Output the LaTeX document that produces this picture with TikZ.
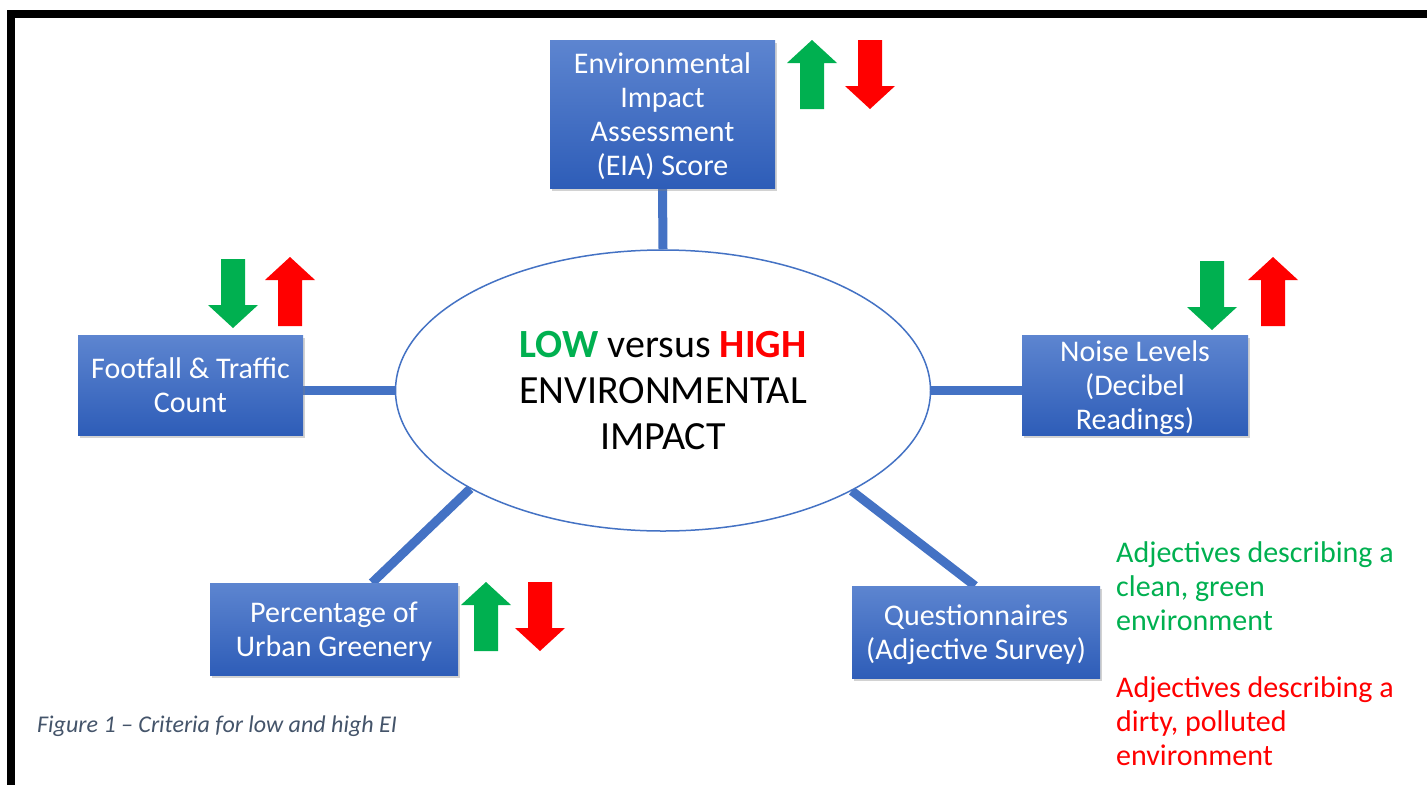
\documentclass[tikz,border=0pt]{standalone}
\usepackage{fontspec}
\setmainfont{Carlito}
\usetikzlibrary{shapes.geometric,shadows,calc,backgrounds}
\definecolor{conn}{HTML}{4472C4}
\definecolor{boxtop}{RGB}{93,133,208}
\definecolor{boxbot}{RGB}{46,93,184}
\definecolor{agreen}{HTML}{00B050}
\definecolor{ared}{HTML}{FF0000}
\definecolor{capcol}{HTML}{44546A}
\tikzset{
  pics/uparr/.style={code={\fill[pic actions] (25,0) -- (50,23) -- (37,23) -- (37,69) -- (13,69) -- (13,23) -- (0,23) -- cycle;}},
  pics/dnarr/.style={code={\fill[pic actions] (13,0) -- (37,0) -- (37,46) -- (50,46) -- (25,69) -- (0,46) -- (13,46) -- cycle;}}
}
\begin{document}
\begin{tikzpicture}[x=1pt,y=-1pt,
  crit/.style={rectangle, top color=boxtop, bottom color=boxbot, text=white, align=center,
    inner sep=0pt, font=\fontsize{30}{34}\selectfont, text depth=0pt,
    drop shadow={shadow xshift=2pt,shadow yshift=-3pt,opacity=0.35}},
  link/.style={draw=conn, line width=9pt},
  hub/.style={ellipse, draw=conn, line width=1.5pt, fill=white, minimum width=535pt,
    minimum height=281pt, inner sep=0pt, align=center, font=\fontsize{40}{46}\selectfont},
  note/.style={anchor=base west, inner sep=0pt, font=\fontsize{30}{34}\selectfont}
]
\useasboundingbox (0,0) rectangle (1427,785);
% frame
\fill[black] (7,10) rectangle (1427,18);
\fill[black] (7,10) rectangle (15,785);

% hub
\node[hub] (hub) at (663,390.5) {{\color{agreen}\textbf{LOW}} versus {\color{ared}\textbf{HIGH}}\\ENVIRONMENTAL\\IMPACT};

% criteria boxes
\node[crit, minimum width=225pt, minimum height=148pt] (eia) at (662.5,114) {Environmental\\Impact\\Assessment\\(EIA) Score};
\node[crit, minimum width=225pt, minimum height=100pt] (ff) at (190.5,385) {Footfall \& Traffic\\Count};
\node[crit, minimum width=226pt, minimum height=100pt] (noise) at (1135,385) {Noise Levels\\(Decibel\\Readings)};
\node[crit, minimum width=248pt, minimum height=92pt] (pg) at (334,629) {Percentage of\\Urban Greenery};
\node[crit, minimum width=248pt, minimum height=92pt] (qs) at (976,632) {Questionnaires\\(Adjective Survey)};

% connectors
\begin{scope}[on background layer]
\fill[white] (15,18) rectangle (1427,785);
\draw[link] (eia.south) -- (hub.north);
\draw[link] (hub.west -| ff.east) -- (hub.west);
\draw[link] (hub.east -| noise.west) -- (hub.east);
\draw[link] (hub.207.8) -- ($(pg.north west)!0.653!(pg.north east)$);
\draw[link] (hub.332.2) -- ($(qs.north west)!0.496!(qs.north east)$);
\end{scope}

% indicator arrows
\pic[fill=agreen] at (787,40) {uparr};
\pic[fill=ared] at (845,40) {dnarr};
\pic[fill=agreen] at (208,259) {dnarr};
\pic[fill=ared] at (265,257) {uparr};
\pic[fill=agreen] at (1187,261) {dnarr};
\pic[fill=ared] at (1248,257) {uparr};
\pic[fill=agreen] at (461,582) {uparr};
\pic[fill=ared] at (515,582) {dnarr};

% adjective notes
\node[note, text=agreen] (adjg) at (1116,562) {\begin{tabular}[t]{@{}l@{}}Adjectives describing a\\clean, green\\environment\end{tabular}};
\node[note, text=ared] (adjr) at (1116,697) {\begin{tabular}[t]{@{}l@{}}Adjectives describing a\\dirty, polluted\\environment\end{tabular}};

% caption
\node[anchor=base west, inner sep=0pt, text=capcol, font=\fontsize{24}{29}\selectfont\itshape] (cap) at (37,732) {Figure 1 – Criteria for low and high EI};
\end{tikzpicture}
\end{document}
